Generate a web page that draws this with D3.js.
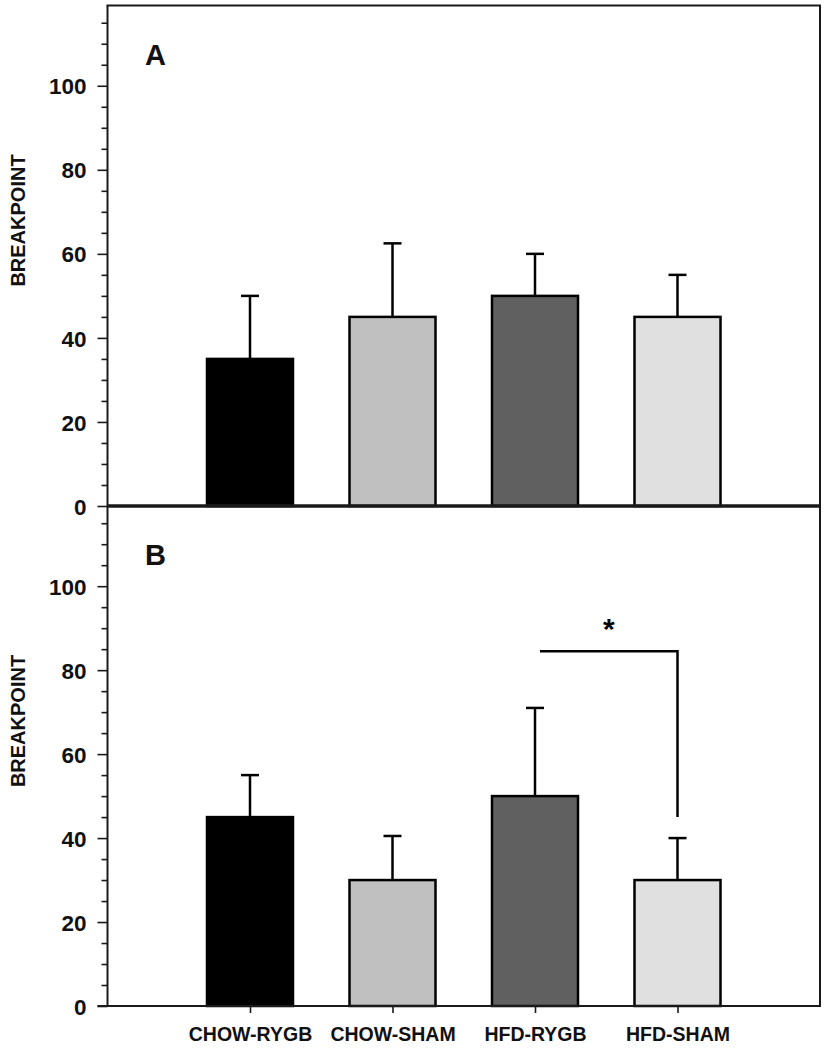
<!DOCTYPE html>
<html>
<head>
<meta charset="utf-8">
<script src="https://cdn.jsdelivr.net/npm/d3@7"></script>
<style>
  html, body { margin: 0; padding: 0; background: #fff; }
  svg { display: block; font-family: Arial, "Liberation Sans", sans-serif; }
</style>
</head>
<body>
<svg id="chart" width="826" height="1050"></svg>
<script>
// ---- data ----
const categories = ["CHOW-RYGB", "CHOW-SHAM", "HFD-RYGB", "HFD-SHAM"];
const meansA = [35, 45, 50, 45];
const errorsA = [15, 17.5, 10, 10];
const meansB = [45, 30, 50, 30];
const errorsB = [10, 10.5, 21, 10];
const barColors = ["#000000", "#c0c0c0", "#606060", "#e0e0e0"];
const majorTicks = [0, 20, 40, 60, 80, 100];
const minorTicks = d3.range(0, 120, 5);
const panelLabels = ["A", "B"];
const yLabel = "BREAKPOINT";
const sigFrom = "HFD-RYGB", sigTo = "HFD-SHAM", sigLevel = 84.5, sigDrop = 45, sigText = "*";

// ---- layout ----
const left = 107.5, right = 820;
const panels = [
  { top: 5.5, bottom: 506, means: meansA, errors: errorsA, label: panelLabels[0] },
  { top: 506, bottom: 1006, means: meansB, errors: errorsB, label: panelLabels[1] }
];
const barW = 86, capW = 18, ink = "#1a1a1a";

const svg = d3.select("#chart");
const x = d3.scalePoint().domain(categories).range([left, right]).padding(1);

panels.forEach((p, pi) => {
  const y = d3.scaleLinear().domain([0, 119.1]).range([p.bottom, p.top]);
  const g = svg.append("g");

  // bars
  g.selectAll("rect.bar").data(categories).join("rect")
    .attr("class", "bar")
    .attr("x", d => x(d) - barW / 2)
    .attr("width", barW)
    .attr("y", (d, i) => y(p.means[i]))
    .attr("height", (d, i) => y(0) - y(p.means[i]))
    .attr("fill", (d, i) => barColors[i])
    .attr("stroke", "#000")
    .attr("stroke-width", 2.5);

  // error bars (upper only)
  g.selectAll("line.err").data(categories).join("line")
    .attr("x1", d => x(d)).attr("x2", d => x(d))
    .attr("y1", (d, i) => y(p.means[i]))
    .attr("y2", (d, i) => y(p.means[i] + p.errors[i]))
    .attr("stroke", "#000").attr("stroke-width", 2.5);
  g.selectAll("line.cap").data(categories).join("line")
    .attr("x1", d => x(d) - capW / 2).attr("x2", d => x(d) + capW / 2)
    .attr("y1", (d, i) => y(p.means[i] + p.errors[i]))
    .attr("y2", (d, i) => y(p.means[i] + p.errors[i]))
    .attr("stroke", "#000").attr("stroke-width", 2.5);

  // y axis major
  const yAx = g.append("g").attr("transform", `translate(${left},0)`)
    .call(d3.axisLeft(y).tickValues(majorTicks).tickSize(10).tickPadding(11).tickFormat(d3.format("d")));
  yAx.select(".domain").remove();
  yAx.selectAll(".tick line").attr("stroke", ink).attr("stroke-width", 1.6);
  yAx.selectAll(".tick text").attr("fill", "#111").style("font-size", "22.5px").style("font-weight", "bold")
    .style("font-family", "Arial, 'Liberation Sans', sans-serif").attr("dy", "0.36em");
  // minor
  const yMin = g.append("g").attr("transform", `translate(${left},0)`)
    .call(d3.axisLeft(y).tickValues(minorTicks.filter(v => !majorTicks.includes(v))).tickSize(6).tickFormat(""));
  yMin.select(".domain").remove();
  yMin.selectAll(".tick line").attr("stroke", ink).attr("stroke-width", 1.6);

  // frame: left and right
  g.append("line").attr("x1", left).attr("x2", left).attr("y1", p.top).attr("y2", p.bottom)
    .attr("stroke", ink).attr("stroke-width", 2);
  g.append("line").attr("x1", right).attr("x2", right).attr("y1", p.top).attr("y2", p.bottom)
    .attr("stroke", ink).attr("stroke-width", 2);

  // panel letter
  g.append("text").attr("x", 145).attr("y", p.top + 59)
    .style("font-size", "29px").style("font-weight", "bold").attr("fill", "#111").text(p.label);

  // y label
  g.append("text")
    .attr("transform", `translate(25,${p.top + 215}) rotate(-90)`)
    .attr("text-anchor", "middle")
    .style("font-size", "20px").attr("fill", "#111")
    .style("font-weight", "bold")
    .text(yLabel);

  if (pi === 0) {
    // top frame
    g.append("line").attr("x1", left - 1).attr("x2", right + 1).attr("y1", p.top).attr("y2", p.top)
      .attr("stroke", ink).attr("stroke-width", 2);
    // thick zero line shared
    g.append("line").attr("x1", left).attr("x2", right).attr("y1", p.bottom).attr("y2", p.bottom)
      .attr("stroke", ink).attr("stroke-width", 3.5);
  } else {
    // bottom x axis
    const xAx = g.append("g").attr("transform", `translate(0,${p.bottom})`)
      .call(d3.axisBottom(x).tickSize(7).tickPadding(14));
    xAx.select(".domain").attr("stroke", ink).attr("stroke-width", 2)
      .attr("d", `M${left - 10},0H${right + 1}`);
    xAx.selectAll(".tick line").attr("stroke", ink).attr("stroke-width", 1.6);
    xAx.selectAll(".tick text").attr("fill", "#111").style("font-size", "19.5px").style("font-weight", "bold")
      .style("font-family", "Arial, 'Liberation Sans', sans-serif");

    // significance bracket
    const bx1 = x(sigFrom) + 5, bx2 = x(sigTo);
    g.append("path")
      .attr("d", `M${bx1},${y(sigLevel)}H${bx2}V${y(sigDrop)}`)
      .attr("fill", "none").attr("stroke", "#000").attr("stroke-width", 2.5);
    g.append("text").attr("x", (bx1 + bx2) / 2).attr("y", y(sigLevel) - 12)
      .attr("text-anchor", "middle").style("font-size", "30px").style("font-weight", "bold")
      .attr("fill", "#000").text(sigText);
  }
});
</script>
</body>
</html>
